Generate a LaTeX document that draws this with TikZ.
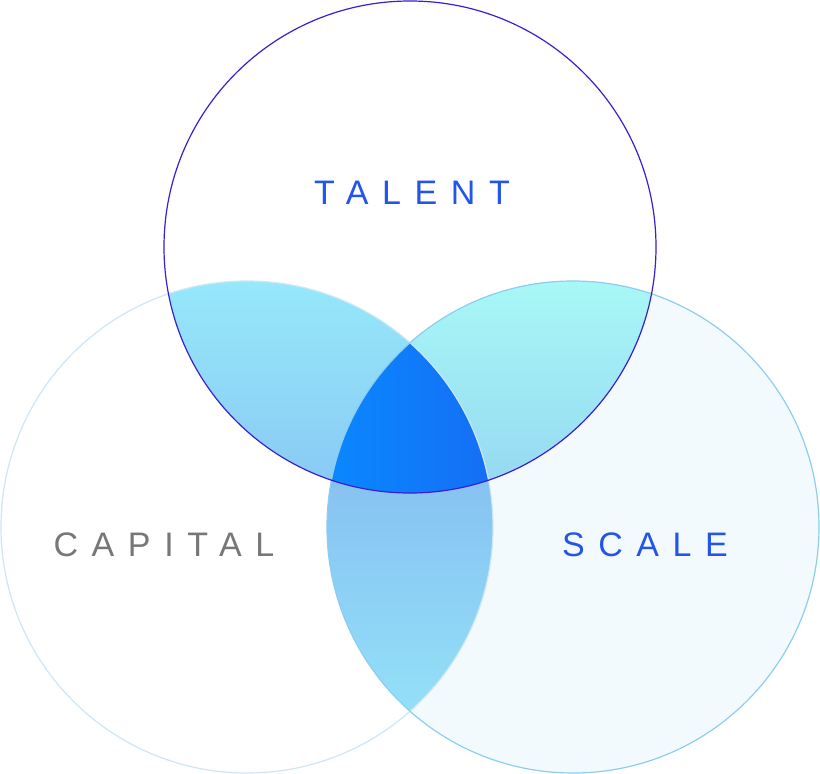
\documentclass[tikz,border=0pt]{standalone}
\usepackage{fontspec}
\setmainfont{Liberation Sans}
\begin{document}
\begin{tikzpicture}[x=1pt,y=-1pt,
  lbl/.style={font=\fontsize{34}{36}\selectfont\addfontfeature{LetterSpace=40}}]
\definecolor{topc}{HTML}{3A1FD0}
\definecolor{leftc}{HTML}{CDE7F6}
\definecolor{rightc}{HTML}{8ECDF0}
\definecolor{rightf}{HTML}{F3FAFE}
\definecolor{bluet}{HTML}{2255E8}
\definecolor{grayt}{HTML}{777777}
\useasboundingbox (0,0) rectangle (820,774);
\fill[white] (0,0) rectangle (820,774);
\coordinate (T) at (410,247);
\coordinate (L) at (247,527);
\coordinate (R) at (573,527);
\fill[rightf] (R) circle (246);
% top-left lens
\begin{scope}
  \clip (T) circle (246);
  \shade[shading angle=135, top color={rgb,255:red,150;green,232;blue,250}, bottom color={rgb,255:red,120;green,160;blue,236}] (L) circle (246);
\end{scope}
% top-right lens
\begin{scope}
  \clip (T) circle (246);
  \shade[top color={rgb,255:red,168;green,248;blue,246}, bottom color={rgb,255:red,125;green,172;blue,236}] (R) circle (246);
\end{scope}
% bottom lens
\begin{scope}
  \clip (L) circle (246);
  \shade[top color={rgb,255:red,125;green,168;blue,236}, bottom color={rgb,255:red,150;green,232;blue,250}] (R) circle (246);
\end{scope}
% center
\begin{scope}
  \clip (T) circle (246);
  \clip (L) circle (246);
  \shade[left color={rgb,255:red,10;green,136;blue,255}, right color={rgb,255:red,42;green,60;blue,224}] (R) circle (246);
\end{scope}
\draw[leftc, line width=1.2pt] (L) circle (246);
\draw[rightc, line width=1.2pt] (R) circle (246);
\draw[topc, line width=1.2pt] (T) circle (246);
\node[lbl, text=bluet] (tl) at (412,193) {TALENT};
\node[lbl, text=grayt] (cl) at (164,545) {CAPITAL};
\node[lbl, text=bluet] (sl) at (645,545) {SCALE};
\end{tikzpicture}
\end{document}
